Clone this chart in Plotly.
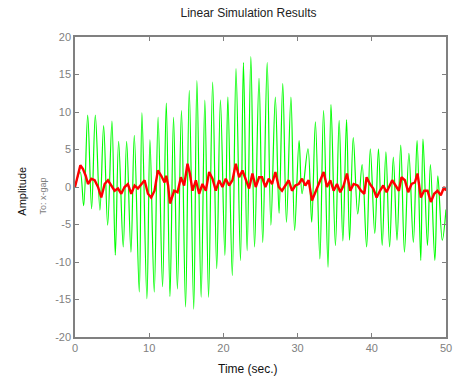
import plotly.graph_objects as go

# Green response: extrema (time s, amplitude)
green_t = [0, 0.7, 1.17, 1.71, 2.24, 2.74, 3.36, 3.86, 4.4, 4.98, 5.43, 5.88, 6.5, 6.96,
           7.54, 7.99, 8.66, 9.02, 9.69, 10.1, 10.68, 11.2, 11.8, 12.3, 12.8, 13.28,
           13.8, 14.35, 14.9, 15.4, 16.0, 16.43, 17.0, 17.5, 18.0, 18.55, 19.1, 19.6,
           20.2, 20.6, 21.2, 21.7, 22.3, 22.7, 23.2, 23.7, 24.2, 24.8, 25.3, 25.9,
           26.4, 27.0, 27.5, 28.0, 28.5, 29.1, 29.6, 30.2, 30.6, 31.4, 31.9, 32.4,
           33.0, 33.5, 34.1, 34.5, 35.1, 35.6, 36.1, 36.6, 37.0, 37.5, 38.1, 38.7,
           39.3, 39.8, 40.4, 40.9, 41.4, 41.9, 42.4, 42.9, 43.4, 43.9, 44.4, 45.0,
           45.6, 46.1, 46.6, 46.9, 47.5, 47.9, 48.5, 48.9, 49.5, 50.0]
green_y = [0, 2.0, -2.5, 9.6, -2.9, 9.6, -3.1, 8.2, -5.1, 8.8, -9.1, 6.1, -8.0, 6.1,
           -8.7, 6.9, -14.0, 9.9, -14.9, 6.3, -14.0, 9.3, -13.3, 11.2, -14.6, 9.3,
           -13.6, 10.2, -16.0, 12.9, -16.3, 14.2, -14.7, 11.6, -14.7, 14.0, -10.9, 11.6,
           -9.1, 12.0, -11.8, 15.8, -9.8, 16.6, -8.5, 17.4, -8.0, 14.5, -7.4, 16.6,
           -5.1, 12.0, -3.5, 13.8, -4.7, 12.0, -5.8, 6.2, -0.9, 5.1, -4.7, 8.7,
           -9.6, 10.2, -10.7, 11.0, -7.8, 8.9, -7.2, 9.0, -7.1, 6.6, -3.6, 3.0,
           -8.0, 5.1, -6.2, 5.1, -7.8, 4.7, -8.0, 4.0, -7.1, 5.6, -8.7, 4.5,
           -7.4, 6.2, -9.8, 6.4, -7.8, 3.0, -9.8, 1.5, -7.1, -3.0]

# Red response: samples
red_t = [0, 0.4, 0.72, 1.08, 1.44, 1.75, 2.2, 2.65, 3.1, 3.54, 3.99, 4.44, 4.89, 5.34,
         5.79, 6.24, 6.68, 7.13, 7.58, 8.03, 8.48, 8.93, 9.38, 9.83, 10.27, 10.72,
         11.17, 11.62, 12.07, 12.3, 12.55, 12.8, 13.37, 13.82, 14.27, 14.71, 15.16,
         15.48, 15.84, 16.29, 16.73, 17.18, 17.63, 18.08, 18.53, 18.98, 19.42, 19.87,
         20.32, 20.77, 21.22, 21.67, 22.12, 22.57, 23.01, 23.46, 23.91, 24.36, 24.81,
         25.21, 25.66, 26.11, 26.56, 27.01, 27.46, 27.9, 28.35, 28.8, 29.25, 29.7,
         30.15, 30.6, 31.05, 31.49, 31.94, 32.3, 32.62, 33.07, 33.51, 33.96, 34.41,
         34.86, 35.31, 35.75, 36.2, 36.65, 37.1, 37.55, 38.09, 38.54, 38.99, 39.3,
         39.75, 40.2, 40.65, 41.1, 41.54, 41.99, 42.44, 42.75, 43.2, 43.65, 44.0,
         44.46, 44.91, 45.36, 45.8, 46.16, 46.61, 47.06, 47.51, 47.96, 48.41, 48.85,
         49.3, 49.75, 50.0]
red_y = [0, 1.8, 2.9, 2.4, 1.5, 0.4, 1.1, 0.9, 0, -1.4, 0.4, 0.9, 0.2, -0.5,
         -0.2, -0.9, 0, 0.4, -0.9, 0.2, -0.2, 0.4, 0.9, -0.9, -1.4, -0.5,
         2.2, 1.5, 0.6, 1.5, 0.2, -2.2, -0.5, -0.7, 1.3, 0.2, 3.1,
         1.8, -0.5, 0.9, -0.9, 0.4, -0.5, 2.0, 1.1, -0.5, 0.9, 0,
         1.1, 0.2, 0.9, 3.1, 1.3, 2.2, 0.9, -0.2, 1.8, 0, 1.3,
         1.3, 0, 1.1, 0.4, 2.0, 0, -0.5, 0.2, 0.9, -0.5, 0.2,
         0.4, 1.1, 0.2, 0.9, -1.8, -0.9, -0.2, 0.9, 2.0, 0, 0.9,
         -0.5, 0.4, -0.7, 0.2, 1.8, -0.5, 0.4, 0.2, -0.5, -0.9, 1.3,
         0.4, -0.2, -1.4, -0.5, 0.2, -0.7, 0.2, 0.9, 0.2, -0.5, 1.3,
         0.9, -0.7, 0.4, 0.6, 1.8, -1.4, -0.5, -0.5, -2.0, -0.9, -0.5,
         -1.1, 0, -0.5]

x_ticks = [0, 10, 20, 30, 40, 50]
y_ticks = [-20, -15, -10, -5, 0, 5, 10, 15, 20]

FONT = "Liberation Sans, Arial, sans-serif"
GRAY = "#808080"

fig = go.Figure()
fig.add_trace(go.Scatter(x=green_t, y=green_y, mode="lines",
                         line=dict(color="#00ff00", width=1.2, shape="spline", smoothing=1.0),
                         hoverinfo="skip", showlegend=False))
fig.add_trace(go.Scatter(x=red_t, y=red_y, mode="lines",
                         line=dict(color="#ff0000", width=2.4),
                         hoverinfo="skip", showlegend=False))

axis_common = dict(showgrid=False, zeroline=False, showline=True, linecolor=GRAY,
                   linewidth=1.5, mirror="ticks", ticks="inside", ticklen=4,
                   tickcolor=GRAY, tickwidth=1, automargin=False,
                   tickfont=dict(family=FONT, size=11, color=GRAY))

fig.update_xaxes(range=[0, 50], tickvals=x_ticks, ticktext=[str(v) for v in x_ticks],
                 **axis_common)
fig.update_yaxes(range=[-20, 20], tickvals=y_ticks, ticktext=[str(v) for v in y_ticks],
                 **axis_common)

fig.update_layout(
    width=454, height=376,
    margin=dict(l=75, r=8, t=37, b=39, autoexpand=False),
    paper_bgcolor="white", plot_bgcolor="white",
    title=dict(text="Linear Simulation Results", x=248.5 / 454, xanchor="center",
               y=1 - 12.5 / 376, yanchor="middle",
               font=dict(family=FONT, size=12, color="#222222")),
    annotations=[
        dict(text="Time (sec.)", xref="paper", yref="paper", x=(248 - 75) / 371, y=-0.077,
             xanchor="center", yanchor="top", showarrow=False,
             font=dict(family=FONT, size=12, color="#111111")),
        dict(text="Amplitude", xref="paper", yref="paper", x=-0.145, y=0.485,
             textangle=-90, xanchor="center", yanchor="middle", showarrow=False,
             font=dict(family=FONT, size=11, color="#111111")),
        dict(text="To: x-gap", xref="paper", yref="paper", x=-0.085, y=0.47,
             textangle=-90, xanchor="center", yanchor="middle", showarrow=False,
             font=dict(family=FONT, size=9, color=GRAY)),
    ],
)

fig.write_html("out.html")
